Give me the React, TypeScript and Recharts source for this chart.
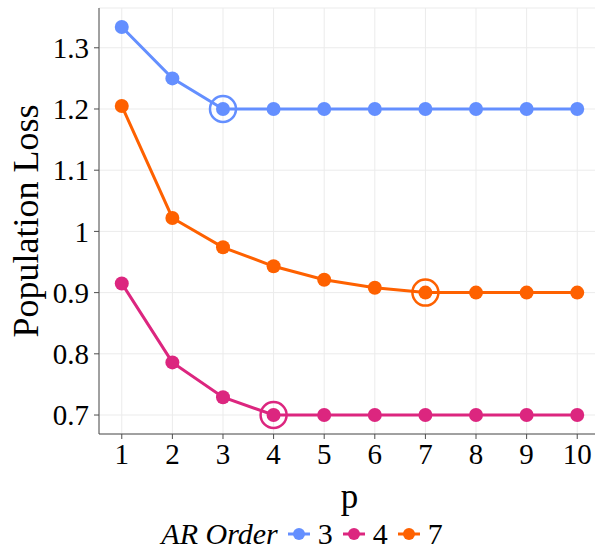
import React from 'react';
import { LineChart, Line, XAxis, YAxis, CartesianGrid, Legend } from 'recharts';

const pValues = [1, 2, 3, 4, 5, 6, 7, 8, 9, 10];
const ar3Loss = [1.334, 1.25, 1.2, 1.2, 1.2, 1.2, 1.2, 1.2, 1.2, 1.2];
const ar4Loss = [0.915, 0.786, 0.729, 0.7, 0.7, 0.7, 0.7, 0.7, 0.7, 0.7];
const ar7Loss = [1.205, 1.022, 0.974, 0.943, 0.921, 0.908, 0.9, 0.9, 0.9, 0.9];
const yTicks = [0.7, 0.8, 0.9, 1.0, 1.1, 1.2, 1.3];

const series = [
  { key: 'ar3', name: '3', color: '#648FFF', best: 3 },
  { key: 'ar4', name: '4', color: '#DC267F', best: 4 },
  { key: 'ar7', name: '7', color: '#FE6100', best: 7 },
];

const data = pValues.map((p, i) => ({ p, ar3: ar3Loss[i], ar4: ar4Loss[i], ar7: ar7Loss[i] }));

const FONT = '"Liberation Serif", "DejaVu Serif", serif';
const AXIS = '#4d4d4d';

const makeDot = (color: string, best: number) => (props: any) => {
  const { cx, cy, payload, index } = props;
  return (
    <g key={`dot-${color}-${index}`}>
      <circle cx={cx} cy={cy} r={7} fill={color} />
      {payload.p === best && (
        <circle cx={cx} cy={cy} r={13} fill="none" stroke={color} strokeWidth={2.5} />
      )}
    </g>
  );
};

const LegendBox = () => (
  <div
    style={{
      display: 'flex',
      alignItems: 'center',
      justifyContent: 'center',
      boxSizing: 'border-box',
      height: 36,
      lineHeight: 1,
      fontFamily: FONT,
      fontSize: 30,
      color: '#000',
      paddingLeft: 14,
      paddingTop: 4,
    }}
  >
    <span style={{ fontStyle: 'italic', marginRight: 10 }}>AR Order</span>
    {series.map((s) => (
      <span key={s.key} style={{ display: 'flex', alignItems: 'center', marginRight: 10 }}>
        <svg width={22} height={14} style={{ marginRight: 8 }}>
          <line x1={0} y1={7} x2={22} y2={7} stroke={s.color} strokeWidth={3} />
          <circle cx={11} cy={7} r={6} fill={s.color} />
        </svg>
        {s.name}
      </span>
    ))}
  </div>
);

export default function App() {
  return (
    <div style={{ position: 'absolute', left: 0, top: 0, width: 595, height: 550, overflow: 'hidden', background: '#fff' }}>
      <LineChart width={600} height={550} data={data} margin={{ top: 8, right: 0, left: 0, bottom: 0 }}>
        <CartesianGrid stroke="#ebebeb" strokeWidth={1} />
        <XAxis
          type="number"
          dataKey="p"
          domain={[0.55, 10.45]}
          ticks={pValues}
          allowDataOverflow
          height={80}
          tickSize={5}
          tickMargin={4}
          stroke={AXIS}
          tick={{ fill: '#000', fontFamily: FONT, fontSize: 29 }}
          label={{ value: 'p', position: 'insideBottom', offset: 6, fill: '#000', fontFamily: FONT, fontSize: 35 }}
        />
        <YAxis
          type="number"
          domain={[0.669, 1.365]}
          ticks={yTicks}
          allowDataOverflow
          width={99}
          tickSize={5}
          tickMargin={5}
          stroke={AXIS}
          tickFormatter={(v: number) => (v === 1 ? '1' : v.toFixed(1))}
          tick={{ fill: '#000', fontFamily: FONT, fontSize: 29 }}
          label={{
            value: 'Population Loss',
            angle: -90,
            position: 'insideLeft',
            offset: 25,
            textAnchor: 'middle',
            fill: '#000',
            fontFamily: FONT,
            fontSize: 36,
          }}
        />
        <Legend verticalAlign="bottom" height={36} content={<LegendBox />} />
        {series.map((s) => (
          <Line
            key={s.key}
            type="linear"
            dataKey={s.key}
            name={s.name}
            stroke={s.color}
            strokeWidth={3}
            dot={makeDot(s.color, s.best)}
            activeDot={false}
            isAnimationActive={false}
          />
        ))}
      </LineChart>
    </div>
  );
}
